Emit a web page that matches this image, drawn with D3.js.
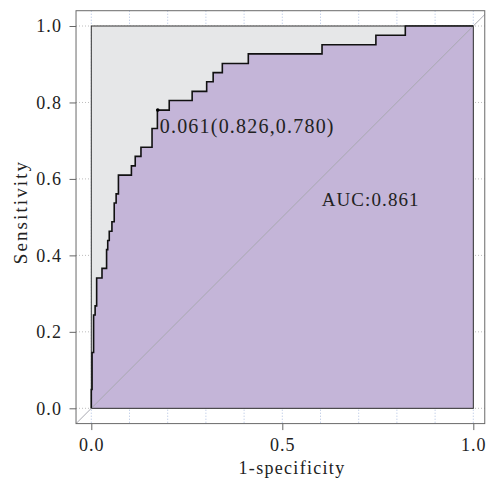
<!DOCTYPE html>
<html>
<head>
<meta charset="utf-8">
<script src="https://cdn.jsdelivr.net/npm/d3@7"></script>
<style>
  body { margin: 0; background: #fff; }
  text { font-family: "Liberation Serif", "Times New Roman", serif; fill: #222; }
</style>
</head>
<body>
<div id="chart"></div>
<script>
// ROC curve vertices (1-specificity, sensitivity)
const fpr = [0, 0, 0.002, 0.002, 0.006, 0.006, 0.010, 0.010, 0.014, 0.014, 0.028, 0.028,
  0.040, 0.040, 0.043, 0.043, 0.047, 0.047, 0.054, 0.054, 0.060, 0.060, 0.065, 0.065,
  0.071, 0.071, 0.105, 0.105, 0.115, 0.115, 0.130, 0.130, 0.159, 0.159, 0.173, 0.173,
  0.204, 0.204, 0.264, 0.264, 0.302, 0.302, 0.319, 0.319, 0.343, 0.343, 0.411, 0.411,
  0.604, 0.604, 0.745, 0.745, 0.822, 0.822, 1];
const tpr = [0, 0.049, 0.049, 0.146, 0.146, 0.244, 0.244, 0.268, 0.268, 0.341, 0.341, 0.366,
  0.366, 0.415, 0.415, 0.439, 0.439, 0.463, 0.463, 0.488, 0.488, 0.537, 0.537, 0.561,
  0.561, 0.610, 0.610, 0.634, 0.634, 0.659, 0.659, 0.683, 0.683, 0.732, 0.732, 0.780,
  0.780, 0.805, 0.805, 0.829, 0.829, 0.854, 0.854, 0.878, 0.878, 0.902, 0.902, 0.927,
  0.927, 0.951, 0.951, 0.976, 0.976, 1, 1];

const threshold = { value: 0.061, spec: 0.826, sens: 0.780 };
const auc = 0.861;
const yTicks = [0, 0.2, 0.4, 0.6, 0.8, 1.0];
const xTicks = [0, 0.5, 1.0];
const xGrid = d3.range(0, 1.01, 0.1);

const width = 490, height = 479;

const x = d3.scaleLinear().domain([0, 1]).range([91.3, 473.3]);
const y = d3.scaleLinear().domain([0, 1]).range([408.3, 26]);

// plot box (R-style 4% extension)
const box = { left: x(-0.04), right: x(1.03), top: y(1.04), bottom: y(-0.04) };

const svg = d3.select('#chart').append('svg')
    .attr('width', width)
    .attr('height', height);

svg.append('defs').append('clipPath').attr('id', 'clip')
  .append('rect')
    .attr('x', box.left).attr('y', box.top)
    .attr('width', box.right - box.left).attr('height', box.bottom - box.top);

// grid
svg.append('g')
    .selectAll('line')
    .data(xGrid)
    .join('line')
    .attr('x1', d => x(d)).attr('x2', d => x(d))
    .attr('y1', box.top).attr('y2', box.bottom)
    .attr('stroke', '#aebfe0')
    .attr('stroke-dasharray', '1,2');

svg.append('g')
    .selectAll('line')
    .data(yTicks)
    .join('line')
    .attr('x1', box.left).attr('x2', box.right)
    .attr('y1', d => y(d)).attr('y2', d => y(d))
    .attr('stroke', '#bbbbbb')
    .attr('stroke-dasharray', '1,2');

// gray unit square
svg.append('rect')
    .attr('x', x(0)).attr('y', y(1))
    .attr('width', x(1) - x(0)).attr('height', y(0) - y(1))
    .attr('fill', '#e6e7e8')
    .attr('stroke', '#333')
    .attr('stroke-width', 1);

const pts = fpr.map((f, i) => [f, tpr[i]]);

// area under curve
svg.append('path')
    .datum(pts.concat([[1, 0], [0, 0]]))
    .attr('fill', '#c4b5d8')
    .attr('stroke', 'none')
    .attr('d', d3.line().x(d => x(d[0])).y(d => y(d[1])));

// right/bottom edges over the fill
svg.append('path')
    .attr('d', `M${x(1)},${y(1)}V${y(0)}H${x(0)}`)
    .attr('fill', 'none')
    .attr('stroke', '#444')
    .attr('stroke-width', 1);

// chance diagonal
svg.append('line')
    .attr('clip-path', 'url(#clip)')
    .attr('x1', x(-0.05)).attr('y1', y(-0.05))
    .attr('x2', x(1.05)).attr('y2', y(1.05))
    .attr('stroke', '#a8a8b0')
    .attr('stroke-width', 1);

// ROC curve
svg.append('path')
    .datum(pts)
    .attr('fill', 'none')
    .attr('stroke', '#111')
    .attr('stroke-width', 1.6)
    .attr('d', d3.line().x(d => x(d[0])).y(d => y(d[1])));

// best threshold
svg.append('circle')
    .attr('cx', x(1 - threshold.spec))
    .attr('cy', y(threshold.sens))
    .attr('r', 1.8)
    .attr('fill', '#000');

svg.append('text')
    .attr('x', x(1 - threshold.spec) + 2)
    .attr('y', y(threshold.sens) + 23)
    .attr('font-size', 20)
    .attr('letter-spacing', 1.2)
    .text(`${threshold.value.toFixed(3)}(${threshold.spec.toFixed(3)},${threshold.sens.toFixed(3)})`);

svg.append('text')
    .attr('x', x(0.603))
    .attr('y', y(0.53))
    .attr('font-size', 19)
    .attr('letter-spacing', 1.1)
    .text('AUC:' + auc.toFixed(3));

// outer box
svg.append('rect')
    .attr('x', box.left).attr('y', box.top)
    .attr('width', box.right - box.left).attr('height', box.bottom - box.top)
    .attr('fill', 'none')
    .attr('stroke', '#6a6a6a')
    .attr('stroke-width', 1);

// axes
const yAxis = svg.append('g')
    .attr('transform', `translate(${box.left},0)`)
    .call(d3.axisLeft(y).tickValues(yTicks).tickSize(6.5).tickPadding(7.5).tickFormat(d3.format('.1f')));

const xAxis = svg.append('g')
    .attr('transform', `translate(0,${box.bottom})`)
    .call(d3.axisBottom(x).tickValues(xTicks).tickSize(6.5).tickPadding(8).tickFormat(d3.format('.1f')));

[yAxis, xAxis].forEach(g => {
    g.select('.domain').remove();
    g.selectAll('.tick line').attr('stroke', '#666');
    g.selectAll('.tick text')
        .attr('fill', '#222')
        .attr('font-size', 18)
        .attr('letter-spacing', 1.1)
        .style('font-family', '"Liberation Serif", "Times New Roman", serif');
});

svg.append('text')
    .attr('x', 292)
    .attr('y', 474)
    .attr('text-anchor', 'middle')
    .attr('font-size', 18)
    .attr('letter-spacing', 1.3)
    .text('1-specificity');

svg.append('text')
    .attr('transform', 'translate(26.5,212) rotate(-90)')
    .attr('text-anchor', 'middle')
    .attr('font-size', 19)
    .attr('letter-spacing', 2.1)
    .text('Sensitivity');
</script>
</body>
</html>
